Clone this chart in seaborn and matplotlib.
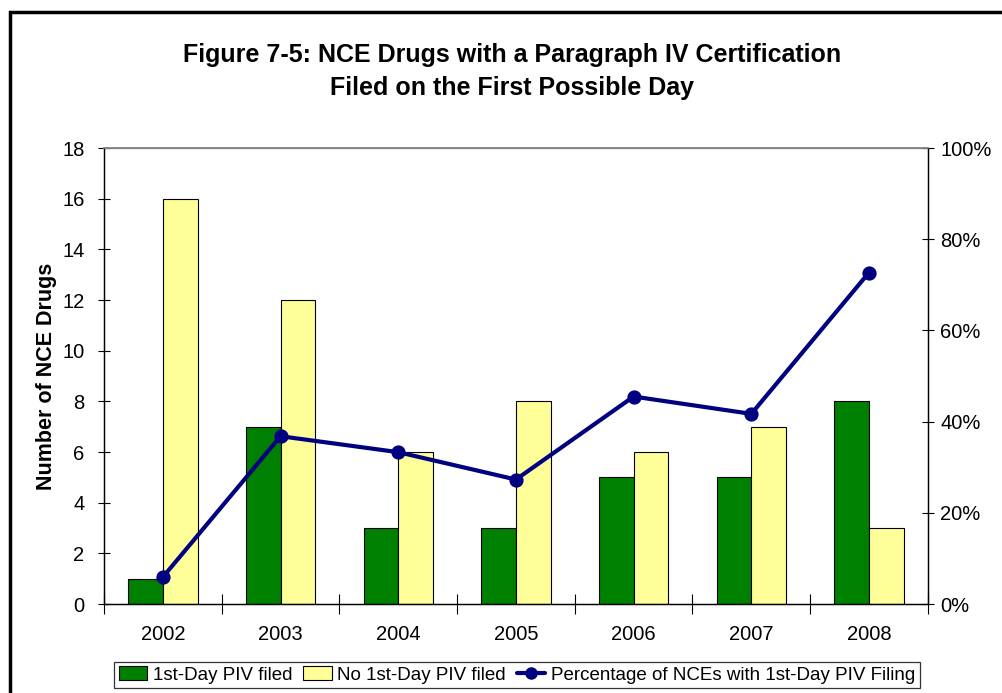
import matplotlib
matplotlib.use("Agg")
import matplotlib.pyplot as plt
import matplotlib.patches as mpatches
from matplotlib.lines import Line2D
from matplotlib.ticker import PercentFormatter, FixedLocator
import numpy as np
import pandas as pd
import seaborn as sns

# Data
years = ["2002", "2003", "2004", "2005", "2006", "2007", "2008"]
first_day_filed = [1, 7, 3, 3, 5, 5, 8]
no_first_day_filed = [16, 12, 6, 8, 6, 7, 3]
pct_first_day = [5.9, 36.8, 33.3, 27.3, 45.5, 41.7, 72.7]

series_names = ["1st-Day PIV filed", "No 1st-Day PIV filed"]
line_name = "Percentage of NCEs with 1st-Day PIV Filing"

green = "#008000"
yellow = "#FFFF99"
navy = "#000080"

sns.set_theme(style="white")
plt.rcParams["font.family"] = ["Liberation Sans", "DejaVu Sans"]
plt.rcParams["text.color"] = "black"
plt.rcParams["axes.labelcolor"] = "black"
plt.rcParams["xtick.color"] = "black"
plt.rcParams["ytick.color"] = "black"

df = pd.DataFrame({
    "year": years * 2,
    "count": first_day_filed + no_first_day_filed,
    "series": [series_names[0]] * len(years) + [series_names[1]] * len(years),
})
df_pct = pd.DataFrame({"year": years, "pct": [p / 100 for p in pct_first_day]})

fig = plt.figure(figsize=(10.02, 6.93), dpi=100)
ax = fig.add_axes([0.1038, 0.1284, 0.8222, 0.658])

# Bars
sns.barplot(data=df, x="year", y="count", hue="series", ax=ax,
            palette=[green, yellow], width=0.59, edgecolor="black",
            linewidth=0.8, saturation=1, legend=False)
ax.set_ylim(0, 18)
ax.set_xlim(-0.5, len(years) - 0.5)
ax.set_yticks(range(0, 19, 2))
ax.set_xlabel("")
ax.set_ylabel("Number of NCE Drugs", fontsize=15.5, fontweight="bold", labelpad=4)
ax.tick_params(axis="y", direction="inout", length=8, width=0.8, labelsize=14.5,
               left=True, pad=10)
ax.tick_params(axis="x", which="major", length=0, labelsize=14.5, pad=15)
ax.xaxis.set_minor_locator(FixedLocator(np.arange(-0.5, len(years), 1.0)))
ax.tick_params(axis="x", which="minor", direction="inout", length=14, width=0.8,
               bottom=True, color="black")

for side in ["left", "bottom", "right"]:
    ax.spines[side].set_color("black")
    ax.spines[side].set_linewidth(0.9)
ax.spines["top"].set_color("#808080")
ax.spines["top"].set_linewidth(0.9)

# Line on secondary axis
ax2 = ax.twinx()
sns.pointplot(data=df_pct, x="year", y="pct", ax=ax2, color=navy,
              markers="o", markersize=8, linewidth=3)
ax2.set_ylim(0, 1)
ax2.set_xlim(-0.5, len(years) - 0.5)
ax2.set_yticks(np.arange(0, 1.01, 0.2))
ax2.yaxis.set_major_formatter(PercentFormatter(1.0, decimals=0))
ax2.set_ylabel("")
ax2.set_xlabel("")
ax2.tick_params(axis="y", direction="inout", length=8, width=0.8, labelsize=14.5,
                right=True, pad=5)
for side in ["left", "bottom", "right"]:
    ax2.spines[side].set_color("black")
    ax2.spines[side].set_linewidth(0.9)
ax2.spines["top"].set_color("#808080")

# Title
fig.text(0.511, 0.897, "Figure 7-5: NCE Drugs with a Paragraph IV Certification\nFiled on the First Possible Day",
         ha="center", va="center", fontsize=18, fontweight="bold", linespacing=1.45)

# Legend
handles = [
    mpatches.Patch(facecolor=green, edgecolor="black", linewidth=0.8, label=series_names[0]),
    mpatches.Patch(facecolor=yellow, edgecolor="black", linewidth=0.8, label=series_names[1]),
    Line2D([0], [0], color=navy, linewidth=3, marker="o", markersize=8, label=line_name),
]
leg = fig.legend(handles=handles, loc="center", bbox_to_anchor=(0.516, 0.026), ncol=3,
                 fontsize=13.5, frameon=True, fancybox=False, edgecolor="black",
                 handlelength=1.5, handletextpad=0.3, columnspacing=0.6,
                 borderpad=0.25, borderaxespad=0)
leg.get_frame().set_linewidth(0.9)

# Outer chart frame
fig.patches.append(mpatches.Rectangle((0.0095, -0.05), 1.1, 1.0327, transform=fig.transFigure,
                                      fill=False, edgecolor="black", linewidth=2.5))

fig.savefig("out.png", dpi=100)
